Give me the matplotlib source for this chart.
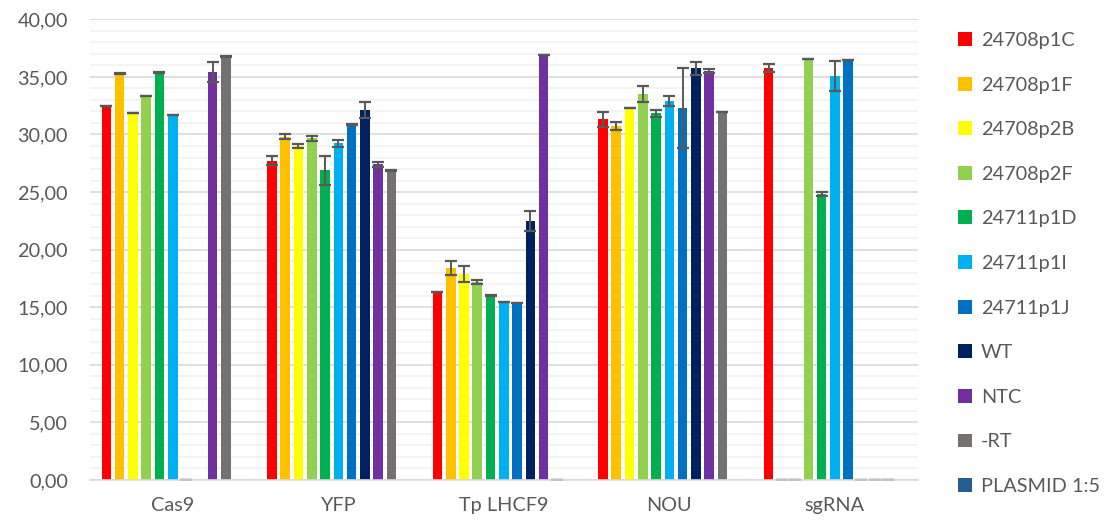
import numpy as np
import matplotlib
matplotlib.use("Agg")
import matplotlib.pyplot as plt
from matplotlib.patches import Patch
from matplotlib.ticker import MultipleLocator, FuncFormatter

categories = ["Cas9", "YFP", "Tp LHCF9", "NOU", "sgRNA"]
series = ["24708p1C", "24708p1F", "24708p2B", "24708p2F", "24711p1D",
          "24711p1I", "24711p1J", "WT", "NTC", "-RT", "PLASMID 1:5"]
colors = ["#FF0000", "#FFC000", "#FFFF00", "#92D050", "#00B050",
          "#00B0F0", "#0070C0", "#002060", "#7030A0", "#767171", "#255E91"]
nan = np.nan
# values per series, across categories (Cas9, YFP, Tp LHCF9, NOU, sgRNA)
v_24708p1C = [32.47, 27.72, 16.32, 31.31, 35.74]
v_24708p1F = [35.30, 29.80, 18.43, 30.73, 0.0]
v_24708p2B = [31.86, 28.99, 17.88, 32.32, 0.0]
v_24708p2F = [33.36, 29.66, 17.21, 33.53, 36.57]
v_24711p1D = [35.39, 26.88, 16.03, 31.83, 24.83]
v_24711p1I = [31.68, 29.23, 15.45, 32.87, 35.07]
v_24711p1J = [0.0, 30.88, 15.36, 32.29, 36.46]
v_WT = [nan, 32.12, 22.48, 35.74, 0.0]
v_NTC = [35.44, 27.43, 36.89, 35.53, 0.0]
v_RT = [36.78, 26.88, 0.0, 31.94, 0.0]
v_PLASMID = [nan, nan, nan, nan, nan]
values = [v_24708p1C, v_24708p1F, v_24708p2B, v_24708p2F, v_24711p1D,
          v_24711p1I, v_24711p1J, v_WT, v_NTC, v_RT, v_PLASMID]
# error bars (+/-)
e_24708p1C = [0.02, 0.40, 0.02, 0.65, 0.35]
e_24708p1F = [0.02, 0.20, 0.62, 0.36, 0.0]
e_24708p2B = [0.02, 0.15, 0.70, 0.02, 0.0]
e_24708p2F = [0.02, 0.20, 0.15, 0.70, 0.02]
e_24711p1D = [0.02, 1.27, 0.02, 0.30, 0.17]
e_24711p1I = [0.02, 0.30, 0.02, 0.43, 1.30]
e_24711p1J = [0.0, 0.02, 0.02, 3.46, 0.02]
e_WT = [nan, 0.70, 0.84, 0.58, 0.0]
e_NTC = [0.85, 0.22, 0.02, 0.17, 0.0]
e_RT = [0.02, 0.02, 0.0, 0.02, 0.0]
e_PLASMID = [nan, nan, nan, nan, nan]
errors = [e_24708p1C, e_24708p1F, e_24708p2B, e_24708p2F, e_24711p1D,
          e_24711p1I, e_24711p1J, e_WT, e_NTC, e_RT, e_PLASMID]

plt.rcParams['font.family'] = ['Lato', 'DejaVu Sans']
txt = "#595959"
fs = 14.3

fig = plt.figure(figsize=(11.08, 5.22), dpi=100)
ax = fig.add_axes([90/1108, 1-480/522, (917.7-90)/1108, (480-19.3)/522])

x = np.arange(len(categories))
slot = 0.0802
bw = 0.058
n = len(series)
for i, (name, col) in enumerate(zip(series, colors)):
    pos = x + (i - (n-1)/2) * slot
    vals = np.array(values[i], dtype=float)
    errs = np.array(errors[i], dtype=float)
    ax.bar(pos, vals, width=bw, color=col, zorder=3)
    ax.errorbar(pos, vals, yerr=errs, fmt='none', ecolor="#595959",
                elinewidth=1.4, capsize=4.4, capthick=1.6, zorder=4)

ax.set_xlim(-0.5, len(categories)-0.5)
ax.set_ylim(0, 40)
ax.yaxis.set_major_locator(MultipleLocator(5))
ax.yaxis.set_minor_locator(MultipleLocator(1))
ax.yaxis.set_major_formatter(FuncFormatter(lambda v, p: f"{v:.2f}".replace('.', ',')))
ax.grid(axis='y', which='major', color="#D9D9D9", linewidth=1.2, zorder=0)
ax.grid(axis='y', which='minor', color="#F2F2F2", linewidth=1.2, zorder=0)
ax.set_axisbelow(True)
ax.set_xticks(x)
ax.set_xticklabels(categories)
ax.tick_params(axis='both', which='both', length=0, labelsize=fs, colors=txt)
ax.tick_params(axis='y', pad=16)
ax.tick_params(axis='x', pad=12)
for s in ['top', 'right', 'left']:
    ax.spines[s].set_visible(False)
ax.spines['bottom'].set_color("#D9D9D9")
ax.spines['bottom'].set_linewidth(1.2)
ax.spines['bottom'].set_zorder(5)

handles = [Patch(facecolor=c, edgecolor='none') for c in colors]
leg = fig.legend(handles, series, loc='upper left',
                 bbox_to_anchor=(950/1108, 1-24/522), frameon=False,
                 fontsize=fs, labelspacing=1.39, handlelength=0.7,
                 handleheight=0.7, handletextpad=0.45, borderaxespad=0)
for t in leg.get_texts():
    t.set_color(txt)

fig.savefig("out.png", dpi=100)
